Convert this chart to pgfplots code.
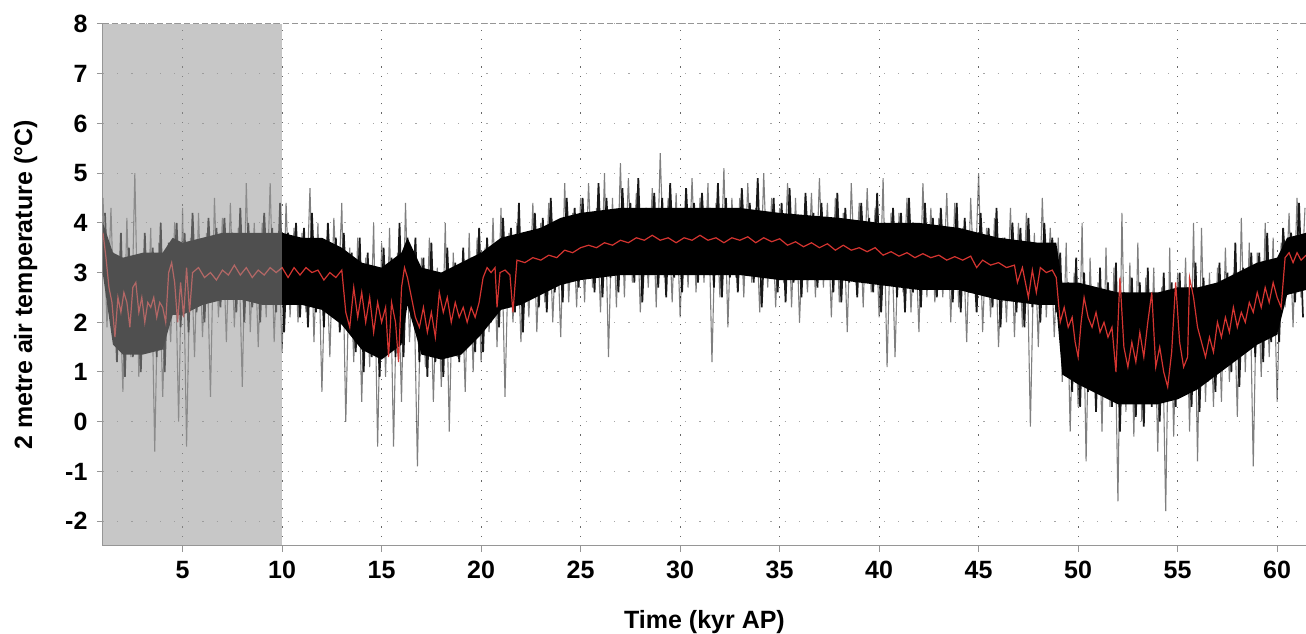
\documentclass[border=0pt]{standalone}
\usepackage{pgfplots}
\pgfplotsset{compat=1.18}
\usepgfplotslibrary{fillbetween}
\usepackage{fontspec}
\setmainfont{Liberation Sans}
\definecolor{redline}{RGB}{212,52,48}
\definecolor{axgray}{RGB}{150,150,150}
\begin{document}
\begin{tikzpicture}
\begin{axis}[
    scale only axis,
    width=1203pt, height=522pt,
    xmin=1, xmax=61.45,
    ymin=-2.5, ymax=8,
    axis lines=left,
    axis line style={-, axgray, line width=1pt},
    xtick={5,10,...,60},
    ytick={-2,-1,...,8},
    tick align=outside,
    major tick length=6pt,
    tick style={axgray, line width=1pt},
    xmajorgrids, ymajorgrids,
    x grid style={black!60, line width=1pt, dash pattern=on 1.2pt off 8pt},
    y grid style={black!35, line width=1pt, dash pattern=on 1.2pt off 13pt},
    /pgf/number format/assume math mode=true,
    ticklabel style={font=\fontsize{25}{30}\selectfont\bfseries},
    xticklabel style={yshift=-6pt},
    yticklabel style={xshift=-6pt},
    xlabel={Time (kyr AP)},
    ylabel={2 metre air temperature (°C)},
    label style={font=\fontsize{25}{30}\selectfont\bfseries},
    xlabel style={yshift=-24pt},
    ylabel style={yshift=21pt},
]
% dense core of the annual values
\addplot[name path=up, draw=none, forget plot] coordinates {
(1,4.0) (1.5,3.4) (2,3.3) (3,3.4) (4,3.4) (4.5,3.7) (5,3.6) (6,3.7) (7,3.8) (8,3.8)
(9,3.8) (10,3.8) (11,3.7) (12,3.7) (13,3.5) (14,3.2) (15,3.1) (16,3.4) (16.3,3.7)
(17,3.1) (18,3.0) (19,3.2) (20,3.4) (21,3.7) (22,3.8) (23,3.9) (24,4.1) (25,4.2)
(27,4.3) (30,4.3) (33,4.3) (35,4.2) (38,4.1) (40,4.0) (42,4.0) (44,3.9) (46,3.7)
(48,3.6) (48.9,3.6) (49.2,2.8) (50,2.8) (51,2.7) (52,2.6) (53,2.6) (54,2.6) (55,2.7)
(56,2.7) (57,2.8) (58,3.0) (59,3.2) (60,3.3) (60.5,3.7) (61.45,3.8)};
\addplot[name path=lo, draw=none, forget plot] coordinates {
(1,2.95) (1.5,1.55) (2,1.35) (3,1.35) (4,1.45) (4.5,2.15) (5,2.15) (6,2.35) (7,2.45)
(8,2.45) (9,2.35) (10,2.35) (11,2.35) (12,2.25) (13,1.95) (14,1.45) (15,1.25) (16,1.55)
(16.3,2.35) (17,1.35) (18,1.25) (19,1.35) (20,1.75) (21,2.25) (22,2.35) (23,2.55)
(24,2.75) (25,2.85) (27,2.95) (30,2.95) (33,2.95) (35,2.85) (38,2.85) (40,2.75)
(42,2.65) (44,2.65) (46,2.45) (48,2.35) (48.9,2.35) (49.2,0.95) (50,0.75) (51,0.55)
(52,0.35) (53,0.35) (54,0.35) (55,0.45) (56,0.65) (57,0.95) (58,1.25) (59,1.55)
(60,1.75) (60.5,2.55) (61.45,2.65)};
\addplot[black, draw=none] fill between[of=up and lo];
% annual values, bulk
\addplot[black, opacity=0.9, line width=1.7pt, line join=bevel] coordinates {
(1.1,4.2) (1.3,2.2) (1.5,3.4) (1.7,1.2) (1.9,3.8) (2.1,0.9) (2.3,3.5) (2.5,1.3)
(2.7,3.3) (2.9,1.0) (3.1,3.8) (3.3,1.5) (3.5,3.5) (3.7,1.3) (3.9,4.0) (4.1,1.0)
(4.3,3.6) (4.5,2.2) (4.7,4.0) (4.9,1.9) (5.1,3.8) (5.3,1.8) (5.5,4.2) (5.7,2.2)
(5.9,3.6) (6.1,2.0) (6.3,4.1) (6.5,2.5) (6.7,3.9) (6.9,2.3) (7.1,4.1) (7.3,2.5)
(7.5,3.8) (7.7,2.2) (7.9,4.3) (8.1,2.0) (8.3,4.0) (8.5,2.3) (8.7,3.7) (8.9,2.0)
(9.1,4.2) (9.3,2.5) (9.5,3.9) (9.7,2.2) (9.9,4.4) (10.1,1.8) (10.3,3.8) (10.5,2.4)
(10.7,4.0) (10.9,2.1) (11.1,3.9) (11.3,1.9) (11.5,4.2) (11.7,2.2) (11.9,3.6) (12.1,1.9)
(12.3,4.0) (12.5,2.3) (12.7,3.7) (12.9,1.8) (13.1,3.8) (13.3,1.9) (13.5,3.4) (13.7,1.4)
(13.9,3.7) (14.1,1.0) (14.3,3.4) (14.5,1.3) (14.7,3.0) (14.9,0.9) (15.1,3.5) (15.3,1.5)
(15.5,3.3) (15.7,1.3) (15.9,4.0) (16.1,1.3) (16.3,3.7) (16.5,2.1) (16.7,3.7) (16.9,1.2)
(17.1,3.3) (17.3,0.9) (17.5,3.6) (17.7,1.2) (17.9,2.9) (18.1,0.9) (18.3,3.5) (18.5,1.5)
(18.7,3.2) (18.9,1.2) (19.1,3.5) (19.3,1.5) (19.5,3.3) (19.7,1.4) (19.9,3.9) (20.1,1.4)
(20.3,3.7) (20.5,2.0) (20.7,3.5) (20.9,1.9) (21.1,4.1) (21.3,2.4) (21.5,3.9) (21.7,2.2)
(21.9,4.4) (22.1,1.8) (22.3,3.8) (22.5,2.5) (22.7,4.2) (22.9,2.3) (23.1,4.1) (23.3,2.2)
(23.5,4.5) (23.7,2.6) (23.9,4.0) (24.1,2.4) (24.3,4.5) (24.5,3.0) (24.7,4.3) (24.9,2.7)
(25.1,4.5) (25.3,2.9) (25.5,4.2) (25.7,2.6) (25.9,4.8) (26.1,2.5) (26.3,4.5) (26.5,2.9)
(26.7,4.2) (26.9,2.6) (27.1,4.7) (27.3,3.1) (27.5,4.4) (27.7,2.8) (27.9,4.9) (28.1,2.4)
(28.3,4.3) (28.5,3.0) (28.7,4.6) (28.9,2.7) (29.1,4.5) (29.3,2.5) (29.5,4.8) (29.7,2.9)
(29.9,4.2) (30.1,2.6) (30.3,4.7) (30.5,3.1) (30.7,4.4) (30.9,2.8) (31.1,4.6) (31.3,3.0)
(31.5,4.3) (31.7,2.7) (31.9,4.8) (32.1,2.5) (32.3,4.5) (32.5,2.9) (32.7,4.2) (32.9,2.6)
(33.1,4.7) (33.3,3.1) (33.5,4.4) (33.7,2.8) (33.9,4.9) (34.1,2.3) (34.3,4.2) (34.5,2.9)
(34.7,4.5) (34.9,2.6) (35.1,4.4) (35.3,2.4) (35.5,4.7) (35.7,2.8) (35.9,4.1) (36.1,2.5)
(36.3,4.6) (36.5,3.0) (36.7,4.2) (36.9,2.7) (37.1,4.4) (37.3,2.9) (37.5,4.1) (37.7,2.6)
(37.9,4.6) (38.1,2.4) (38.3,4.3) (38.5,2.8) (38.7,4.0) (38.9,2.5) (39.1,4.4) (39.3,2.9)
(39.5,4.1) (39.7,2.6) (39.9,4.6) (40.1,2.2) (40.3,4.0) (40.5,2.8) (40.7,4.3) (40.9,2.5)
(41.1,4.2) (41.3,2.2) (41.5,4.5) (41.7,2.6) (41.9,3.9) (42.1,2.3) (42.3,4.4) (42.5,2.8)
(42.7,4.1) (42.9,2.5) (43.1,4.3) (43.3,2.7) (43.5,3.9) (43.7,2.4) (43.9,4.4) (44.1,2.2)
(44.3,4.1) (44.5,2.6) (44.7,3.7) (44.9,2.2) (45.1,4.2) (45.3,2.7) (45.5,3.9) (45.7,2.3)
(45.9,4.3) (46.1,1.9) (46.3,3.7) (46.5,2.5) (46.7,4.0) (46.9,2.2) (47.1,3.9) (47.3,1.9)
(47.5,4.1) (47.7,2.3) (47.9,3.5) (48.1,2.0) (48.3,4.0) (48.5,2.5) (48.7,3.7) (48.9,2.2)
(49.1,3.4) (49.3,1.0) (49.5,2.8) (49.7,0.6) (49.9,3.3) (50.1,0.3) (50.3,3.0) (50.5,0.6)
(50.7,2.6) (50.9,0.2) (51.1,3.1) (51.3,0.6) (51.5,2.8) (51.7,0.3) (51.9,3.2) (52.1,-0.2)
(52.3,2.6) (52.5,0.4) (52.7,2.9) (52.9,0.1) (53.1,2.8) (53.3,-0.1) (53.5,3.1) (53.7,0.3)
(53.9,2.5) (54.1,0.0) (54.3,3.0) (54.5,0.6) (54.7,2.8) (54.9,0.3) (55.1,3.0) (55.3,0.6)
(55.5,2.7) (55.7,0.3) (55.9,3.2) (56.1,0.2) (56.3,2.9) (56.5,0.8) (56.7,2.7) (56.9,0.6)
(57.1,3.2) (57.3,1.2) (57.5,3.0) (57.7,1.0) (57.9,3.6) (58.1,0.7) (58.3,3.1) (58.5,1.5)
(58.7,3.4) (58.9,1.3) (59.1,3.4) (59.3,1.2) (59.5,3.8) (59.7,1.6) (59.9,3.2) (60.1,1.6)
(60.3,3.9) (60.5,2.7) (60.7,3.8) (60.9,2.4) (61.1,4.4) (61.3,2.1)};
% annual values, extremes
\addplot[black, opacity=0.5, line width=1.1pt, line join=bevel] coordinates {
(1.0,4.5) (1.2,1.9) (1.4,4.3) (1.6,1.6) (1.8,3.3) (2.0,0.6) (2.2,4.1) (2.4,1.3)
(2.6,5.0) (2.8,0.9) (3.0,3.3) (3.2,1.5) (3.4,3.9) (3.6,-0.6) (3.8,3.6) (4.0,0.5)
(4.2,3.1) (4.4,1.6) (4.6,4.0) (4.8,0.0) (5.0,4.3) (5.2,-0.5) (5.4,3.7) (5.6,1.3)
(5.8,4.2) (6.0,1.7) (6.2,3.8) (6.4,0.5) (6.6,4.5) (6.8,2.1) (7.0,4.1) (7.2,1.6)
(7.4,4.4) (7.6,1.9) (7.8,3.9) (8.0,0.7) (8.2,4.8) (8.4,1.8) (8.6,4.0) (8.8,1.5)
(9.0,4.0) (9.2,2.1) (9.4,4.8) (9.6,1.6) (9.8,3.8) (10.0,1.4) (10.2,4.4) (10.4,2.1)
(10.6,3.9) (10.8,2.0) (11.0,3.8) (11.2,2.2) (11.4,4.7) (11.6,1.6) (11.8,4.0) (12.0,0.6)
(12.2,3.6) (12.4,1.3) (12.6,4.1) (12.8,2.3) (13.0,4.4) (13.2,0.0) (13.4,3.5) (13.6,1.2)
(13.8,3.7) (14.0,0.4) (14.2,3.3) (14.4,1.1) (14.6,4.0) (14.8,-0.5) (15.0,3.6) (15.2,0.9)
(15.4,3.9) (15.6,-0.5) (15.8,3.4) (16.0,0.4) (16.2,4.4) (16.4,1.6) (16.6,3.3) (16.8,-0.9)
(17.0,3.3) (17.2,1.1) (17.4,3.7) (17.6,0.4) (17.8,3.1) (18.0,0.7) (18.2,4.0) (18.4,-0.2)
(18.6,3.4) (18.8,1.3) (19.0,3.2) (19.2,0.6) (19.4,3.8) (19.6,1.0) (19.8,3.7) (20.0,1.2)
(20.2,3.5) (20.4,1.8) (20.6,4.1) (20.8,1.5) (21.0,4.3) (21.2,0.5) (21.4,3.8) (21.6,2.0)
(21.8,4.0) (22.0,1.6) (22.2,3.7) (22.4,2.1) (22.6,4.4) (22.8,1.8) (23.0,4.0) (23.2,2.4)
(23.4,4.4) (23.6,2.0) (23.8,4.0) (24.0,1.7) (24.2,4.8) (24.4,2.4) (24.6,4.2) (24.8,2.3)
(25.0,4.5) (25.2,2.4) (25.4,4.8) (25.6,2.7) (25.8,4.3) (26.0,2.2) (26.2,5.0) (26.4,1.3)
(26.6,4.5) (26.8,2.3) (27.0,5.2) (27.2,2.5) (27.4,4.9) (27.6,2.8) (27.8,4.6) (28.0,2.2)
(28.2,4.2) (28.4,2.7) (28.6,4.7) (28.8,2.3) (29.0,5.4) (29.2,2.9) (29.4,4.5) (29.6,2.4)
(29.8,4.6) (30.0,2.1) (30.2,4.3) (30.4,2.7) (30.6,4.9) (30.8,2.6) (31.0,4.5) (31.2,2.8)
(31.4,4.8) (31.6,1.2) (31.8,4.4) (32.0,2.5) (32.2,5.1) (32.4,1.9) (32.6,4.5) (32.8,2.9)
(33.0,4.5) (33.2,2.5) (33.4,4.8) (33.6,2.8) (33.8,4.3) (34.0,2.2) (34.2,5.0) (34.4,2.7)
(34.6,4.5) (34.8,2.3) (35.0,4.3) (35.2,2.8) (35.4,4.8) (35.6,2.3) (35.8,4.5) (36.0,2.0)
(36.2,4.1) (36.4,2.6) (36.6,4.6) (36.8,2.5) (37.0,4.9) (37.2,2.7) (37.4,4.4) (37.6,2.1)
(37.8,4.5) (38.0,2.4) (38.2,4.2) (38.4,1.8) (38.6,4.8) (38.8,2.8) (39.0,4.4) (39.2,2.3)
(39.4,4.7) (39.6,2.6) (39.8,4.3) (40.0,2.1) (40.2,4.9) (40.4,1.1) (40.6,4.2) (40.8,1.3)
(41.0,4.2) (41.2,2.6) (41.4,4.5) (41.6,2.2) (41.8,4.0) (42.0,1.8) (42.2,4.8) (42.4,2.5)
(42.6,4.3) (42.8,2.4) (43.0,4.1) (43.2,2.5) (43.4,4.6) (43.6,2.0) (43.8,4.4) (44.0,2.3)
(44.2,3.9) (44.4,1.6) (44.6,4.5) (44.8,2.6) (45.0,5.0) (45.2,1.8) (45.4,3.9) (45.6,2.1)
(45.8,4.1) (46.0,1.5) (46.2,3.7) (46.4,2.0) (46.6,4.3) (46.8,1.7) (47.0,4.0) (47.2,1.9)
(47.4,4.2) (47.6,-0.1) (47.8,3.8) (48.0,1.5) (48.2,4.5) (48.4,2.1) (48.6,3.9) (48.8,1.7)
(49.0,3.7) (49.2,0.8) (49.4,3.6) (49.6,-0.2) (49.8,3.0) (50.0,0.3) (50.2,4.0) (50.4,-0.8)
(50.6,3.3) (50.8,0.9) (51.0,2.8) (51.2,-0.2) (51.4,3.5) (51.6,0.3) (51.8,3.1) (52.0,-1.6)
(52.2,4.2) (52.4,0.2) (52.6,3.2) (52.8,-0.3) (53.0,3.6) (53.2,0.0) (53.4,2.9) (53.6,0.5)
(53.8,3.1) (54.0,-0.6) (54.2,2.7) (54.4,-1.8) (54.6,3.5) (54.8,-0.3) (55.0,3.0) (55.2,0.6)
(55.4,3.3) (55.6,-0.2) (55.8,4.0) (56.0,-0.8) (56.2,3.9) (56.4,0.4) (56.6,3.0) (56.8,0.3)
(57.0,3.1) (57.2,0.4) (57.4,3.5) (57.6,0.8) (57.8,3.0) (58.0,0.1) (58.2,4.1) (58.4,1.0)
(58.6,3.6) (58.8,-0.9) (59.0,3.4) (59.2,0.9) (59.4,4.0) (59.6,1.3) (59.8,3.7) (60.0,0.4)
(60.2,3.6) (60.4,2.3) (60.6,4.2) (60.8,1.9) (61.0,4.5) (61.2,2.5) (61.4,4.3)};
% smoothed series
\addplot[redline, line width=1.2pt] coordinates {
(1.0,3.8) (1.15,3.3) (1.3,2.7) (1.45,2.4) (1.6,1.7) (1.75,2.5) (1.9,2.2) (2.05,2.6)
(2.2,2.4) (2.35,1.9) (2.5,2.7) (2.65,2.8) (2.8,2.2) (2.95,2.5) (3.1,2.0) (3.25,2.4)
(3.4,2.3) (3.55,2.5) (3.7,2.1) (3.85,2.4) (4.0,2.3) (4.15,2.0) (4.3,3.0) (4.45,3.2)
(4.6,2.8) (4.75,2.0) (4.9,2.8) (5.05,2.1) (5.2,3.1) (5.35,2.2) (5.5,3.0) (5.8,3.1)
(6.1,2.9) (6.4,3.0) (6.7,2.85) (7.0,3.05) (7.3,2.95) (7.6,3.15) (7.9,2.95) (8.2,3.1)
(8.5,2.9) (8.8,3.05) (9.1,2.95) (9.4,3.1) (9.7,3.0) (10.0,3.1) (10.3,2.9) (10.6,3.1)
(10.9,2.95) (11.2,3.1) (11.5,3.0) (11.8,3.05) (12.1,2.85) (12.4,3.0) (12.7,2.9) (13.0,3.05)
(13.2,2.2) (13.4,1.9) (13.6,2.7) (13.8,2.1) (14.0,2.6) (14.2,2.0) (14.4,2.5) (14.6,1.8)
(14.8,2.4) (15.0,2.0) (15.2,2.3) (15.35,1.3) (15.5,2.4) (15.7,2.0) (15.85,1.2) (16.0,2.7)
(16.15,3.1) (16.3,2.9) (16.5,2.5) (16.7,2.1) (16.9,1.9) (17.1,2.3) (17.3,1.8) (17.5,2.2)
(17.7,1.7) (17.9,2.6) (18.1,2.2) (18.3,2.5) (18.5,2.0) (18.7,2.4) (18.9,2.1) (19.1,2.3)
(19.3,2.0) (19.5,2.3) (19.7,2.1) (19.9,2.4) (20.1,2.9) (20.3,3.1) (20.5,3.0) (20.7,3.1)
(20.8,2.3) (20.95,3.0) (21.2,3.05) (21.45,2.95) (21.6,2.2) (21.8,3.25) (22.2,3.2) (22.6,3.3)
(23.0,3.25) (23.4,3.35) (23.8,3.3) (24.2,3.45) (24.6,3.4) (25.0,3.5) (25.4,3.55) (25.8,3.5)
(26.2,3.6) (26.6,3.55) (27.0,3.65) (27.4,3.6) (27.8,3.7) (28.2,3.65) (28.6,3.75) (29.0,3.65)
(29.4,3.7) (29.8,3.6) (30.2,3.7) (30.6,3.65) (31.0,3.75) (31.4,3.65) (31.8,3.7) (32.2,3.6)
(32.6,3.7) (33.0,3.65) (33.4,3.72) (33.8,3.6) (34.2,3.7) (34.6,3.62) (35.0,3.68) (35.4,3.55)
(35.8,3.62) (36.2,3.52) (36.6,3.6) (37.0,3.5) (37.4,3.58) (37.8,3.45) (38.2,3.55) (38.6,3.45)
(39.0,3.5) (39.4,3.42) (39.8,3.5) (40.2,3.35) (40.6,3.42) (41.0,3.33) (41.4,3.4) (41.8,3.3)
(42.2,3.38) (42.6,3.3) (43.0,3.35) (43.4,3.25) (43.8,3.32) (44.2,3.25) (44.6,3.33) (44.9,3.1)
(45.2,3.25) (45.6,3.15) (46.0,3.2) (46.4,3.1) (46.8,3.15) (46.95,2.8) (47.2,3.1) (47.5,2.5)
(47.7,3.05) (47.9,2.6) (48.1,3.1) (48.4,3.0) (48.7,3.05) (48.9,2.9) (49.1,2.0) (49.3,2.3)
(49.5,1.9) (49.7,2.1) (49.85,1.6) (50.0,1.3) (50.15,2.0) (50.3,2.5) (50.5,2.1) (50.7,1.9)
(50.9,2.2) (51.1,1.8) (51.3,2.0) (51.5,1.7) (51.7,1.9) (51.9,1.0) (52.1,2.9) (52.3,1.5)
(52.5,1.1) (52.7,1.6) (52.9,1.2) (53.1,1.8) (53.3,1.3) (53.5,2.0) (53.7,2.6) (53.9,1.1)
(54.1,1.5) (54.3,1.0) (54.5,0.7) (54.7,1.4) (54.9,2.8) (55.1,1.6) (55.3,1.1) (55.5,1.3)
(55.6,2.9) (55.8,2.5) (56.0,1.9) (56.2,1.6) (56.4,1.3) (56.6,1.7) (56.8,1.4) (57.0,2.0)
(57.2,1.7) (57.4,2.1) (57.6,1.8) (57.8,2.3) (58.0,1.9) (58.2,2.2) (58.4,2.0) (58.6,2.4)
(58.8,2.2) (59.0,2.6) (59.2,2.3) (59.4,2.7) (59.6,2.4) (59.8,2.8) (60.0,2.5) (60.2,2.3)
(60.4,3.3) (60.6,3.4) (60.8,3.2) (61.0,3.4) (61.2,3.25) (61.45,3.35)};
% shaded first 10 kyr
\addplot[draw=none, fill={rgb,1:red,0.59;green,0.59;blue,0.59}, fill opacity=0.53]
  coordinates {(1,-2.5) (10,-2.5) (10,8) (1,8)} -- cycle;
\draw[axgray, line width=1pt, dash pattern=on 6pt off 3pt] (rel axis cs:0,1) -- (rel axis cs:1,1);
\end{axis}
\pgfresetboundingbox
\path[use as bounding box] (-103pt,-88pt) rectangle (1203pt,546pt);
\end{tikzpicture}
\end{document}
